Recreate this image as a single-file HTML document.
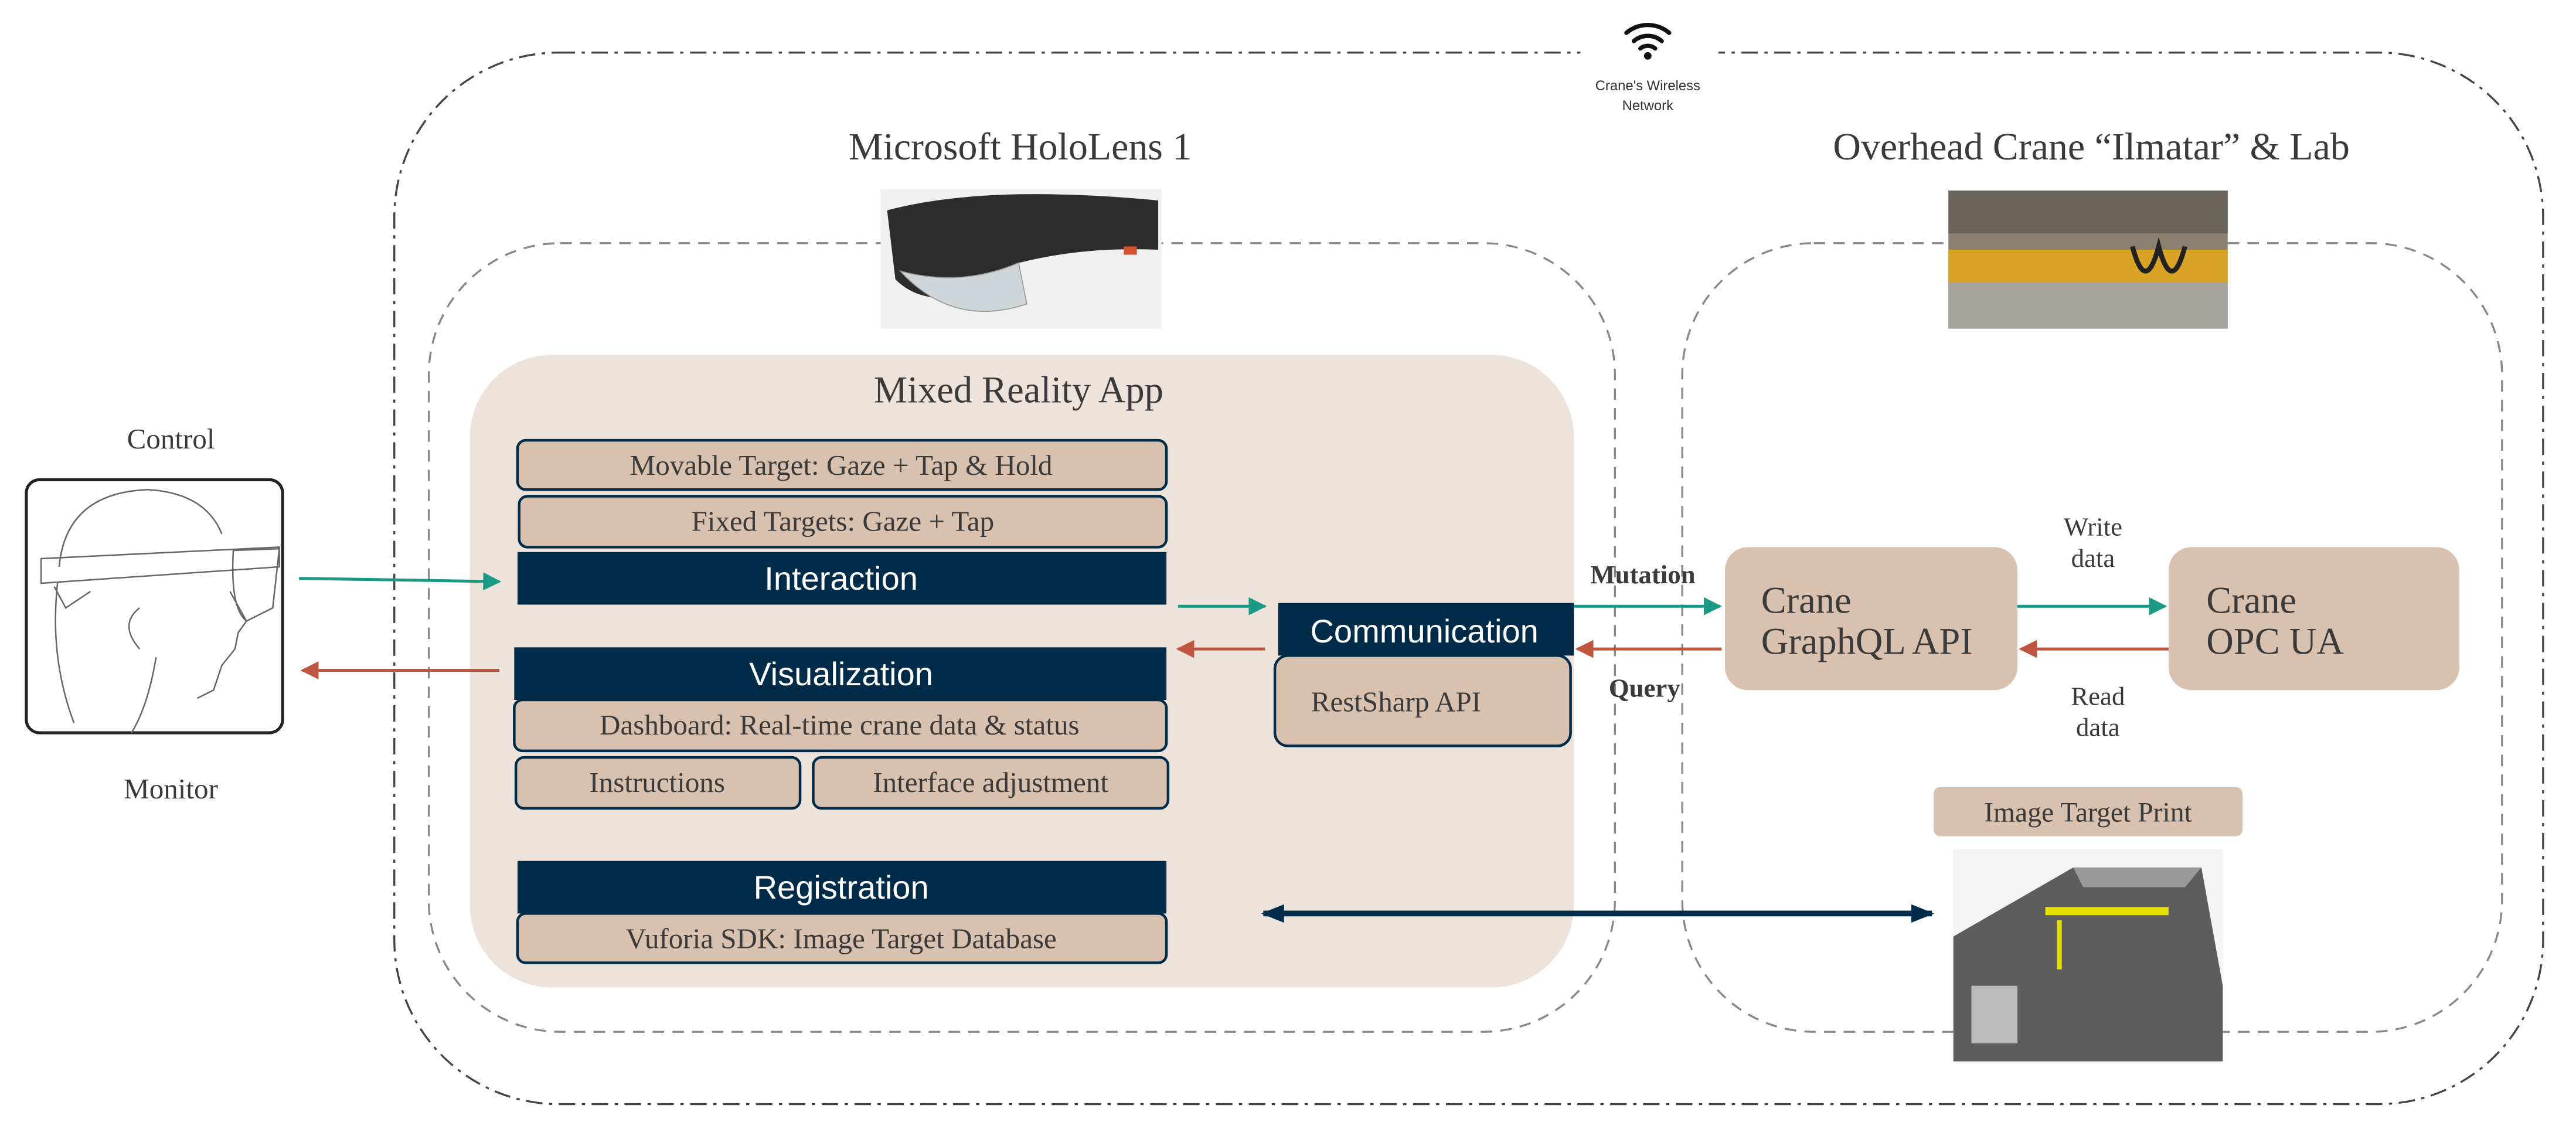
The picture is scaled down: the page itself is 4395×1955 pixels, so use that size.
<!DOCTYPE html>
<html><head><meta charset="utf-8"><style>
html,body{margin:0;padding:0;background:#fff}
svg{display:block}
.s{font-family:"Liberation Serif",serif;fill:#3a3a3a}
.a{font-family:"Liberation Sans",sans-serif;fill:#fff}
</style></head><body>
<svg width="4395" height="1955" viewBox="0 0 1568 697.5" xmlns="http://www.w3.org/2000/svg">
<defs>
<marker id="mt" viewBox="0 0 10 10" refX="9" refY="5" markerWidth="11" markerHeight="11" orient="auto-start-reverse" markerUnits="userSpaceOnUse"><path d="M0,0 L10,5 L0,10z" fill="#1a9985"/></marker>
<marker id="mr" viewBox="0 0 10 10" refX="9" refY="5" markerWidth="11" markerHeight="11" orient="auto-start-reverse" markerUnits="userSpaceOnUse"><path d="M0,0 L10,5 L0,10z" fill="#c0553f"/></marker>
<marker id="md" viewBox="0 0 10 10" refX="9" refY="5" markerWidth="14" markerHeight="14" orient="auto-start-reverse" markerUnits="userSpaceOnUse"><path d="M0,1 L10,5 L0,9z" fill="#002b49"/></marker>
</defs>

<rect x="240" y="32" width="1308" height="640" rx="100" fill="none" stroke="#444" stroke-width="1.2" stroke-dasharray="10,4,2,4"/>
<rect x="962" y="25" width="84" height="14" fill="#fff"/>
<rect x="261" y="148" width="722" height="480" rx="80" fill="none" stroke="#888" stroke-width="1.2" stroke-dasharray="7,5"/>
<rect x="1024" y="148" width="499" height="480" rx="80" fill="none" stroke="#888" stroke-width="1.2" stroke-dasharray="7,5"/>

<g fill="none" stroke="#111" stroke-width="2.6" stroke-linecap="round">
<path d="M990,20 A20,20 0 0 1 1016,20"/>
<path d="M994.5,25 A13,13 0 0 1 1011.5,25"/>
<path d="M998.5,29.5 A7,7 0 0 1 1007.5,29.5"/>
</g>
<circle cx="1003" cy="34" r="2.3" fill="#111"/>
<text x="1003" y="55" font-size="8.5" text-anchor="middle" font-family="Liberation Sans,sans-serif" fill="#333">Crane's Wireless</text>
<text x="1003" y="67" font-size="8.5" text-anchor="middle" font-family="Liberation Sans,sans-serif" fill="#333">Network</text>

<text class="s" x="621" y="97" font-size="23.5" text-anchor="middle">Microsoft HoloLens 1</text>
<text class="s" x="1273" y="97" font-size="23.5" text-anchor="middle">Overhead Crane “Ilmatar” &amp; Lab</text>

<rect x="536" y="115" width="171" height="85" fill="#f0f0f0"/>
<path d="M540,128 Q600,112 705,122 L705,152 Q660,150 620,160 L585,180 Q560,185 545,170z" fill="#2c2c2c"/>
<path d="M548,165 Q580,200 625,185 L620,160 Q585,175 548,165z" fill="#cfd6da" stroke="#999" stroke-width="0.6"/>
<rect x="684" y="150" width="8" height="5" fill="#d3502c"/>

<rect x="1186" y="116" width="170" height="84" fill="#8a8070"/>
<rect x="1186" y="116" width="170" height="26" fill="#6b655e"/>
<rect x="1186" y="152" width="170" height="20" fill="#d9a425"/>
<rect x="1186" y="172" width="170" height="28" fill="#a7a39d"/>
<path d="M1330,150 q-8,30 -16,0 q-8,30 -16,0" stroke="#222" stroke-width="3" fill="none"/>

<rect x="286" y="216" width="672" height="385" rx="50" fill="#ede3da"/>
<text class="s" x="620" y="245" font-size="23" text-anchor="middle">Mixed Reality App</text>

<g stroke="#002b49" stroke-width="1.6" fill="#d8c1ae">
<rect x="315" y="268" width="395" height="30" rx="5"/>
<rect x="316" y="302" width="394" height="31" rx="5"/>
<rect x="313" y="426" width="397" height="31" rx="5"/>
<rect x="314" y="461" width="173" height="31" rx="5"/>
<rect x="495" y="461" width="216" height="31" rx="5"/>
<rect x="315" y="556" width="395" height="30" rx="5"/>
<rect x="776" y="399" width="180" height="55" rx="8"/>
</g>
<g fill="#002b49">
<rect x="315" y="336" width="395" height="32"/>
<rect x="313" y="394" width="397" height="32"/>
<rect x="315" y="524" width="395" height="32"/>
<rect x="778" y="367" width="180" height="32"/>
</g>
<g class="s" font-size="17.5" text-anchor="middle">
<text x="512" y="289">Movable Target: Gaze + Tap &amp; Hold</text>
<text x="513" y="323">Fixed Targets: Gaze + Tap</text>
<text x="511" y="447">Dashboard: Real-time crane data &amp; status</text>
<text x="400" y="482">Instructions</text>
<text x="603" y="482">Interface adjustment</text>
<text x="512" y="577">Vuforia SDK: Image Target Database</text>
<text x="798" y="433" text-anchor="start">RestSharp API</text>
</g>
<g class="a" font-size="20" text-anchor="middle">
<text x="512" y="359">Interaction</text>
<text x="512" y="417">Visualization</text>
<text x="512" y="547">Registration</text>
<text x="867" y="391">Communication</text>
</g>

<rect x="1050" y="333" width="178" height="87" rx="14" fill="#d8c1ae"/>
<rect x="1320" y="333" width="177" height="87" rx="14" fill="#d8c1ae"/>
<g class="s" font-size="23">
<text x="1072" y="373">Crane</text><text x="1072" y="398">GraphQL API</text>
<text x="1343" y="373">Crane</text><text x="1343" y="398">OPC UA</text>
</g>
<g class="s" font-size="16" text-anchor="middle">
<text x="1274" y="326">Write</text><text x="1274" y="345">data</text>
<text x="1277" y="429">Read</text><text x="1277" y="448">data</text>
<text x="1000" y="355" font-weight="bold">Mutation</text>
<text x="1001" y="424" font-weight="bold">Query</text>
</g>

<rect x="1177" y="479" width="188" height="30" rx="4" fill="#d8c1ae"/>
<text class="s" x="1271" y="500" font-size="17" text-anchor="middle">Image Target Print</text>
<rect x="1189" y="517" width="164" height="129" fill="#f4f4f4"/>
<path d="M1189,570 L1262,528 L1340,528 L1353,600 L1353,646 L1189,646z" fill="#5d5d5d"/>
<path d="M1262,528 L1340,528 L1330,540 L1268,540z" fill="#999"/>
<rect x="1245" y="552" width="75" height="5" fill="#e5e000"/>
<rect x="1200" y="600" width="28" height="35" fill="#bbb"/>
<rect x="1252" y="560" width="3" height="30" fill="#e5e000"/>

<g stroke-width="1.8" fill="none">
<line x1="182" y1="352" x2="304" y2="354" stroke="#1a9985" marker-end="url(#mt)"/>
<line x1="304" y1="408" x2="184" y2="408" stroke="#c0553f" marker-end="url(#mr)"/>
<line x1="717" y1="369" x2="770" y2="369" stroke="#1a9985" marker-end="url(#mt)"/>
<line x1="770" y1="395" x2="717" y2="395" stroke="#c0553f" marker-end="url(#mr)"/>
<line x1="958" y1="369" x2="1047" y2="369" stroke="#1a9985" marker-end="url(#mt)"/>
<line x1="1048" y1="395" x2="960" y2="395" stroke="#c0553f" marker-end="url(#mr)"/>
<line x1="1228" y1="369" x2="1318" y2="369" stroke="#1a9985" marker-end="url(#mt)"/>
<line x1="1320" y1="395" x2="1230" y2="395" stroke="#c0553f" marker-end="url(#mr)"/>
<line x1="769" y1="556" x2="1176" y2="556" stroke="#002b49" stroke-width="3.5" marker-start="url(#md)" marker-end="url(#md)"/>
</g>

<rect x="16" y="292" width="156" height="154" rx="8" fill="#fff" stroke="#222" stroke-width="1.8"/>
<text class="s" x="104" y="273" font-size="17.5" text-anchor="middle">Control</text>
<text class="s" x="104" y="486" font-size="17.5" text-anchor="middle">Monitor</text>
<g fill="none" stroke="#666" stroke-width="0.9">
<path d="M36,345 Q40,300 90,298 Q125,300 135,325"/>
<path d="M25,340 L170,333 L170,345 L25,355z"/>
<path d="M142,335 L170,334 L166,370 L150,378 Q140,370 142,335"/>
<path d="M35,355 Q30,400 45,440"/>
<path d="M140,360 L150,378 L145,385 L143,395 L135,405 L130,420 L120,425"/>
<path d="M85,370 Q72,380 85,395"/>
<path d="M95,400 Q90,430 80,446"/>
<path d="M33,357 L40,370 L55,360"/>
</g>
</svg>
</body></html>
